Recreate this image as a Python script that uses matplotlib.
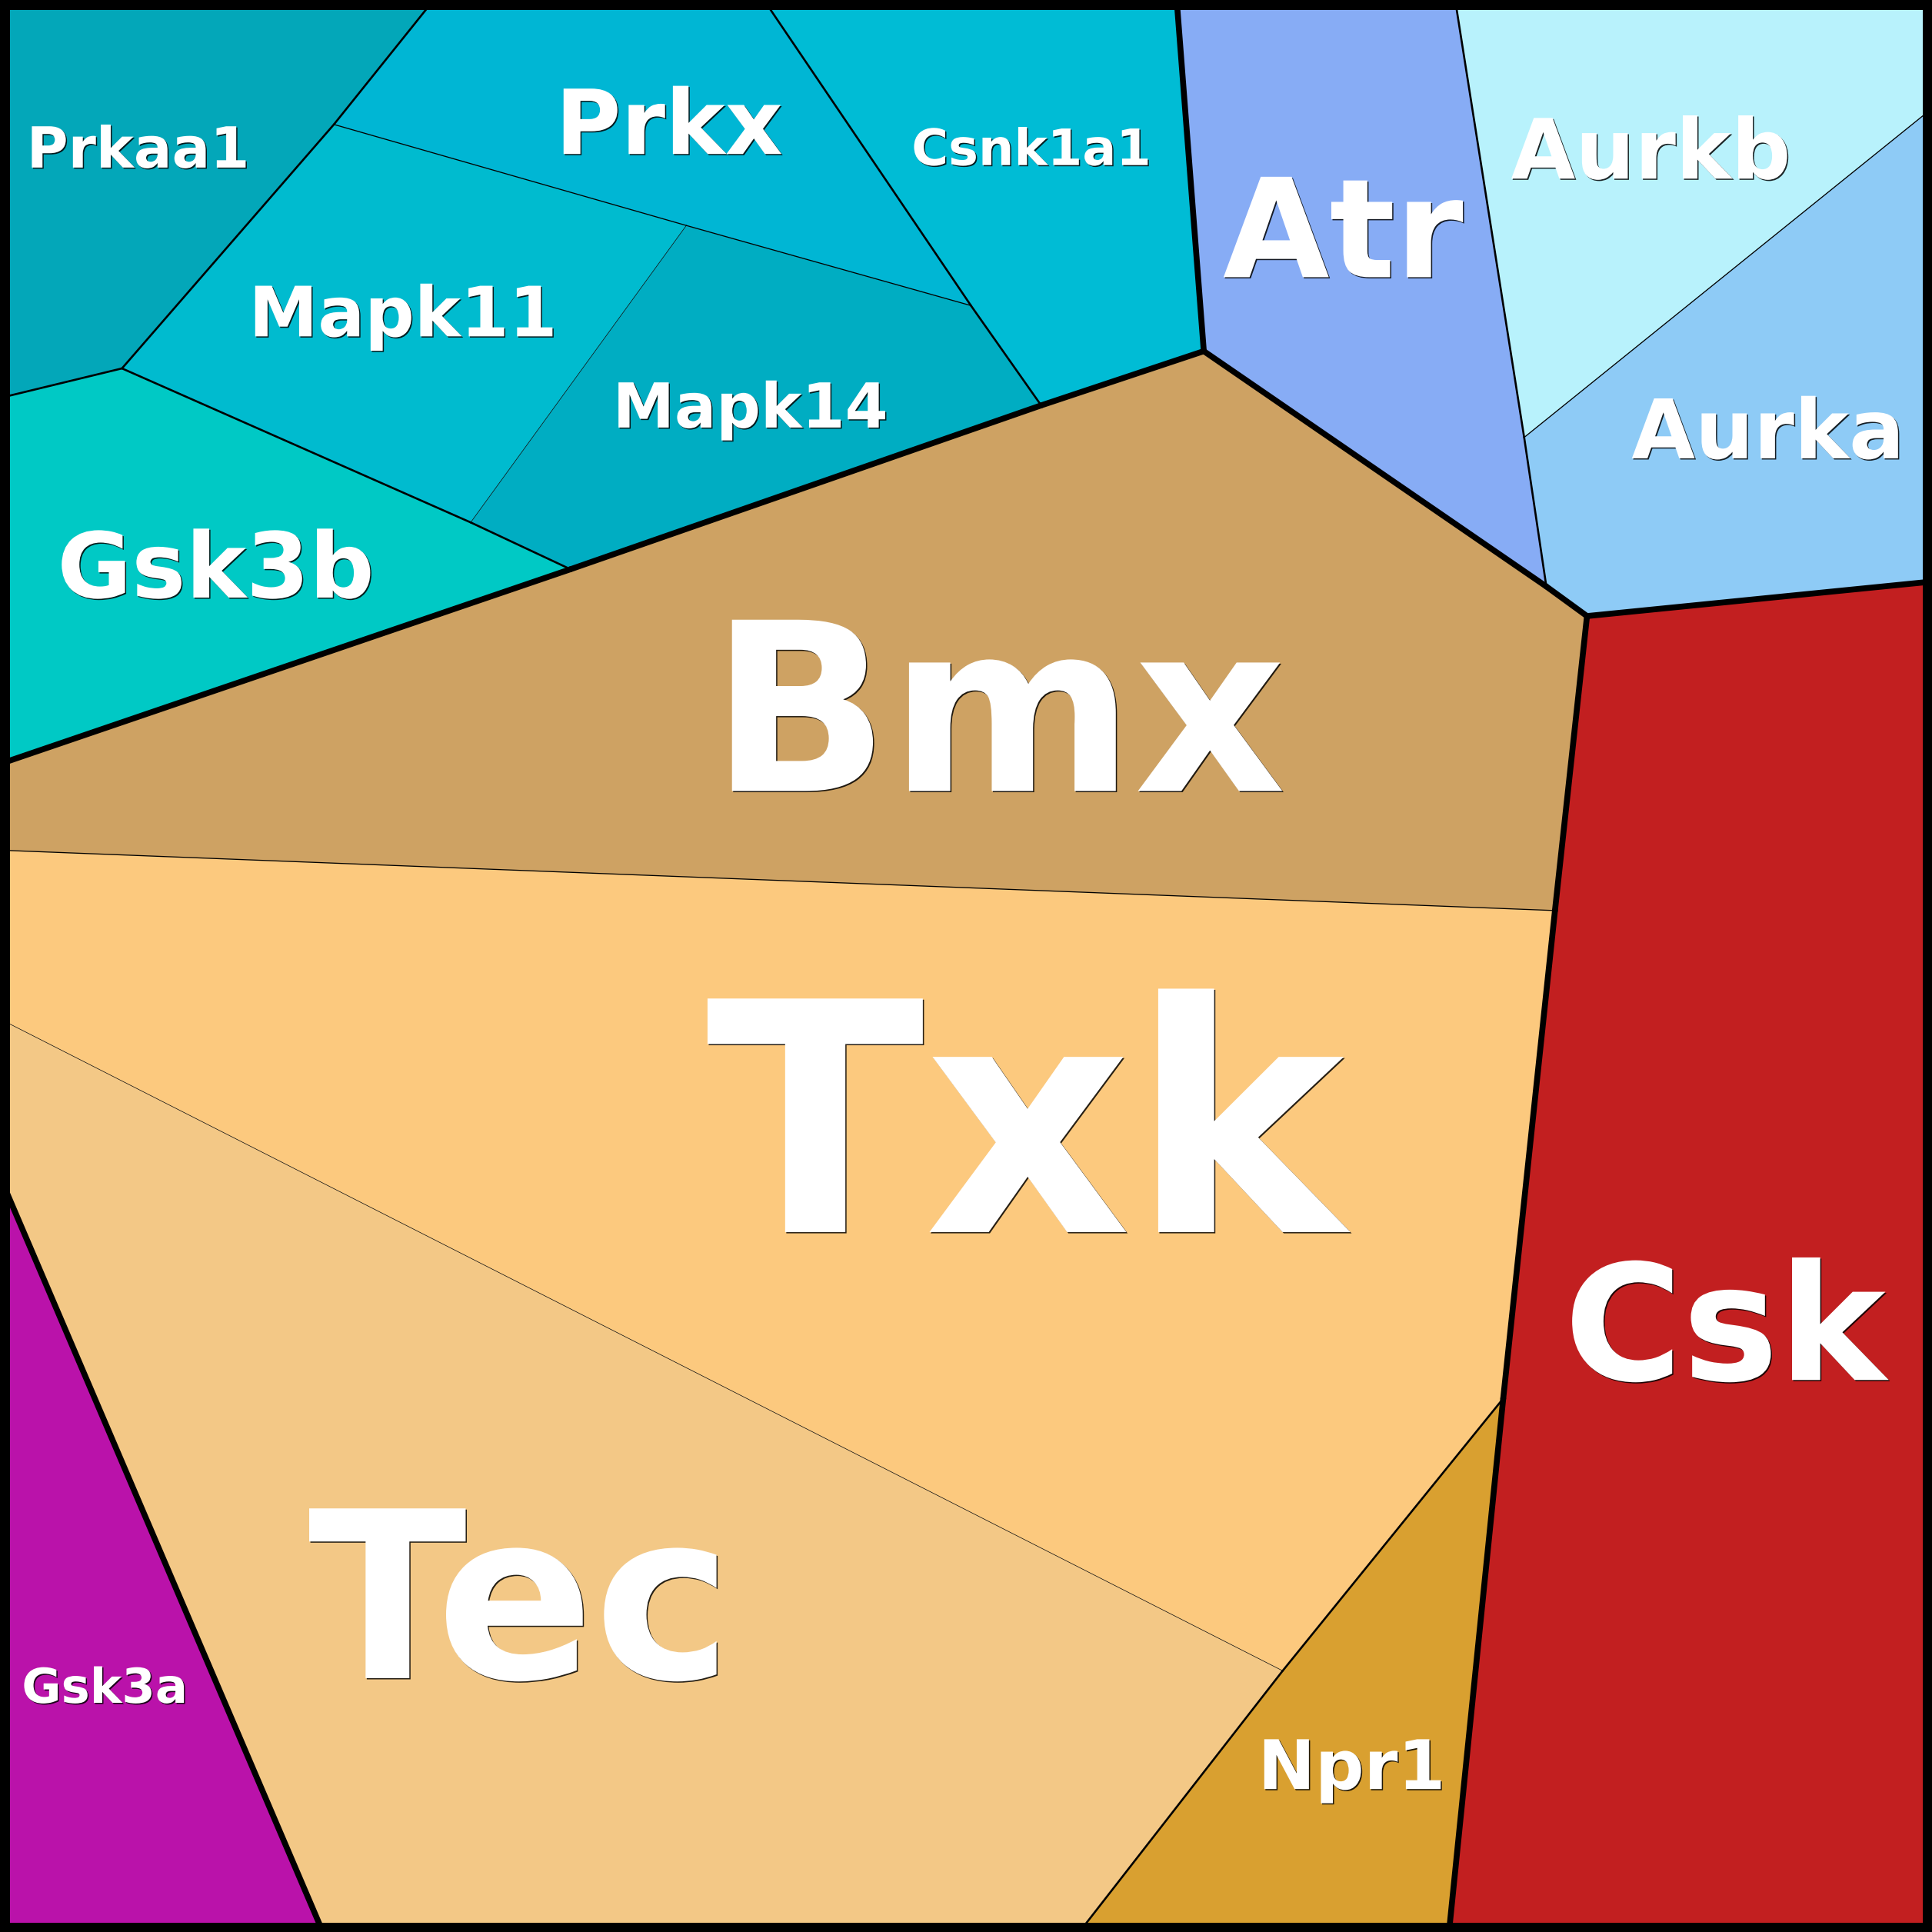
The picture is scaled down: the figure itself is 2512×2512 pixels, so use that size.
import matplotlib
matplotlib.use("Agg")
import matplotlib.pyplot as plt
from matplotlib.patches import Polygon, Rectangle
from matplotlib.collections import LineCollection
import matplotlib.patheffects as pe

# canvas is measured in the units of a 1568 px square
SIZE = 1568

# shared corner points of the voronoi cells
nodes = {
    "C00": (0, 0), "C10": (1568, 0), "C11": (1568, 1568), "C01": (0, 1568),
    "T1": (352, 0), "T2": (620, 0), "T3": (955, 0), "T4": (1181, 0),
    "R1": (1568, 88), "R2": (1568, 472),
    "L1": (0, 323), "L2": (0, 620), "L3": (0, 690), "L4": (0, 827), "L5": (0, 955),
    "B1": (262, 1568), "B2": (876, 1568), "B3": (1176, 1568),
    "a": (271, 101), "b": (99, 299), "c": (557, 183), "d": (788, 248),
    "e": (845, 329), "f": (977, 285), "g": (382, 424), "h": (463, 462),
    "i": (1237, 355), "j": (1255, 476), "k": (1288, 500), "m": (1262, 739),
    "n": (1220, 1135), "o": (1041, 1356),
}

genes = ["Prkaa1", "Prkx", "Csnk1a1", "Mapk11", "Mapk14", "Gsk3b",
         "Atr", "Aurkb", "Aurka", "Bmx", "Txk", "Tec", "Npr1", "Csk", "Gsk3a"]

cell_nodes = {
    "Prkaa1": ["C00", "T1", "a", "b", "L1"],
    "Prkx": ["T1", "T2", "d", "c", "a"],
    "Csnk1a1": ["T2", "T3", "f", "e", "d"],
    "Mapk11": ["a", "c", "g", "b"],
    "Mapk14": ["c", "d", "e", "h", "g"],
    "Gsk3b": ["L1", "b", "g", "h", "L2"],
    "Atr": ["T3", "T4", "i", "j", "f"],
    "Aurkb": ["T4", "C10", "R1", "i"],
    "Aurka": ["i", "R1", "R2", "k", "j"],
    "Bmx": ["L2", "h", "e", "f", "j", "k", "m", "L3"],
    "Txk": ["L3", "m", "n", "o", "L4"],
    "Tec": ["L4", "o", "B2", "B1", "L5"],
    "Npr1": ["n", "B3", "B2", "o"],
    "Csk": ["k", "R2", "C11", "B3", "n", "m"],
    "Gsk3a": ["L5", "B1", "C01"],
}

# nesting of the treemap (group path of each gene)
groups = {
    "Prkaa1": ("A",), "Gsk3b": ("A",), "Csnk1a1": ("A",),
    "Prkx": ("A", "A3"), "Mapk11": ("A", "A3", "A4"), "Mapk14": ("A", "A3", "A4"),
    "Atr": ("B",), "Aurkb": ("B", "B2"), "Aurka": ("B", "B2"),
    "Bmx": ("C", "C2"), "Txk": ("C", "C2", "C3"), "Tec": ("C", "C2", "C3"),
    "Npr1": ("C",), "Csk": ("D",), "Gsk3a": ("E",),
}

colors = {
    "Prkaa1": "#03a7b9", "Prkx": "#00b6d4", "Csnk1a1": "#00bcd5",
    "Mapk11": "#00bbcf", "Mapk14": "#00adc2", "Gsk3b": "#00c9c5",
    "Atr": "#87acf5", "Aurkb": "#b8f2fc", "Aurka": "#8ecbf6",
    "Bmx": "#cea263", "Txk": "#fcc97e", "Tec": "#f3c886",
    "Npr1": "#d9a030", "Csk": "#c21f20", "Gsk3a": "#ba12aa",
}

# label placement: (x centre, baseline y, font size)
labels = {
    "Txk": (832, 1000, 300), "Bmx": (810, 642, 220), "Tec": (422, 1362, 218),
    "Csk": (1400, 1120, 151), "Atr": (1090, 225, 129), "Prkx": (543, 125, 84),
    "Gsk3b": (175, 485, 85), "Aurkb": (1340, 145, 78), "Aurka": (1435, 372, 77),
    "Mapk11": (327, 273, 65), "Mapk14": (609, 347, 58), "Npr1": (1097, 1452, 64),
    "Prkaa1": (112, 136, 53), "Csnk1a1": (837, 134, 47), "Gsk3a": (85, 1382, 45),
}

line_widths = {0: 5.5, 1: 1.9, 2: 0.95, 3: 0.5}

fig = plt.figure(figsize=(25.12, 25.12), dpi=100)
ax = fig.add_axes([0, 0, 1, 1])
ax.set_xlim(0, SIZE)
ax.set_ylim(SIZE, 0)
ax.axis("off")

# cells
for g in genes:
    pts = [nodes[k] for k in cell_nodes[g]]
    ax.add_patch(Polygon(pts, closed=True, facecolor=colors[g],
                         edgecolor="none", linewidth=0, zorder=1))

# borders, weighted by how deep the two neighbours share a group
edge_owner = {}
for g in genes:
    ks = cell_nodes[g]
    for p, q in zip(ks, ks[1:] + ks[:1]):
        edge_owner.setdefault(frozenset((p, q)), []).append(g)

by_width = {}
for edge, owners in edge_owner.items():
    if len(owners) < 2:
        continue
    ga, gb = groups[owners[0]], groups[owners[1]]
    depth = 0
    while depth < min(len(ga), len(gb)) and ga[depth] == gb[depth]:
        depth += 1
    p, q = tuple(edge)
    by_width.setdefault(depth, []).append([nodes[p], nodes[q]])

for depth in sorted(by_width, reverse=True):
    lc = LineCollection(by_width[depth], colors="black",
                        linewidths=line_widths[depth], capstyle="round",
                        zorder=2 + (3 - depth))
    ax.add_collection(lc)

# outer frame
ax.add_patch(Rectangle((0, 0), SIZE, SIZE, fill=False, edgecolor="black",
                       linewidth=18, zorder=10))

shadow = [pe.withSimplePatchShadow(offset=(1.1, -1.1),
                                   shadow_rgbFace="black", alpha=0.85)]
for g in genes:
    x, y, fs = labels[g]
    ax.text(x, y, g, ha="center", va="baseline", color="white",
            fontsize=fs, fontweight="bold", family="DejaVu Sans",
            path_effects=shadow, zorder=20)

fig.savefig("out.png", dpi=100)
